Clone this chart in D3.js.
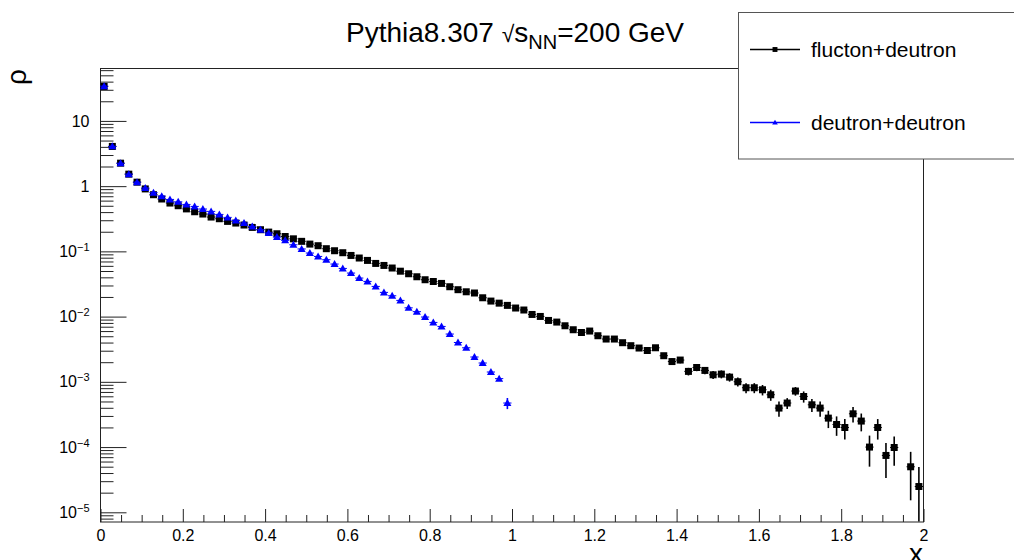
<!DOCTYPE html>
<html>
<head>
<meta charset="utf-8">
<script src="https://cdn.jsdelivr.net/npm/d3@7"></script>
<style>
  body { margin: 0; background: #fff; }
  svg { display: block; font-family: "Liberation Sans", Arial, sans-serif; }
</style>
</head>
<body>
<div id="root"></div>
<script>
// bins of width 0.02 on [0, 2]
const binWidth = 0.02

// flucton+deutron, one value per bin (null = empty bin)
const fdValues = [
  33.2, 3.99, 2.21, 1.50, 1.13, 0.891, 0.726, 0.624, 0.541, 0.492,
  0.440, 0.398, 0.367, 0.330, 0.311, 0.283, 0.267, 0.249, 0.229, 0.211,
  0.194, 0.183, 0.166, 0.153, 0.140, 0.127, 0.120, 0.108, 0.1005, 0.0937,
  0.0851, 0.0777, 0.0714, 0.0642, 0.0598, 0.0546, 0.0488, 0.0446, 0.0401, 0.0361,
  0.0339, 0.0317, 0.0282, 0.0254, 0.0236, 0.0226, 0.0191, 0.0170, 0.0158, 0.0146,
  0.0133, 0.0124, 0.0106, 0.00988, 0.00858, 0.00810, 0.00711, 0.00618, 0.00561, 0.00590,
  0.00500, 0.00445, 0.00445, 0.00391, 0.00352, 0.00324, 0.00297, 0.00327, 0.00247, 0.00201,
  0.00212, 0.00142, 0.00163, 0.00147, 0.00126, 0.00129, 0.00116, 0.000986, 0.000798, 0.000798,
  0.000743, 0.000623, 0.000389, 0.000465, 0.000710, 0.000586, 0.000437, 0.000389, 0.000273, 0.000218,
  0.000196, 0.000318, 0.000246, 0.0000982, 0.000196, 0.0000731, 0.0000968, null, 0.0000490, 0.0000244
]

// flucton+deutron errors (only the ones that show outside the marker)
const fdErrors = [
  0, 0, 0, 0, 0, 0, 0, 0, 0, 0,
  0, 0, 0, 0, 0, 0, 0, 0, 0, 0,
  0, 0, 0, 0, 0, 0, 0, 0, 0, 0,
  0, 0, 0, 0, 0, 0, 0, 0, 0, 0,
  0, 0, 0, 0, 0, 0, 0, 0, 0, 0,
  0, 0, 0, 0, 0, 0, 0, 0, 0, 0,
  0, 0, 0, 0, 0, 0, 0.00027, 0.00028, 0.00025, 0.00022,
  0.00023, 0.00019, 0.00020, 0.00019, 0.000175, 0.00018, 0.00017, 0.000155, 0.00014, 0.00014,
  0.000135, 0.00012, 0.000103, 0.000088, 0.000107, 0.000114, 0.000098, 0.000103, 0.000081, 0.000072,
  0.000068, 0.000085, 0.000075, 0.000049, 0.000068, 0.000040, 0.000046, 0, 0.000034, 0.000024
]

// deutron+deutron, bins 0 .. 49
const ddValues = [
  33.5, 4.0, 2.2, 1.5, 1.13, 0.92, 0.78, 0.69, 0.615, 0.565,
  0.515, 0.480, 0.438, 0.403, 0.362, 0.326, 0.293, 0.267, 0.237, 0.211,
  0.188, 0.163, 0.145, 0.124, 0.107, 0.0927, 0.0822, 0.0732, 0.0628, 0.0538,
  0.0457, 0.0383, 0.0340, 0.0285, 0.0231, 0.0205, 0.0174, 0.0134, 0.0117, 0.00968,
  0.00800, 0.00694, 0.00531, 0.00394, 0.00327, 0.00236, 0.00191, 0.00139, 0.00110, 0.000465
]

const ddErrors = [
  0, 0, 0, 0, 0, 0, 0, 0, 0, 0,
  0, 0, 0, 0, 0, 0, 0, 0, 0, 0,
  0, 0, 0, 0, 0, 0, 0, 0, 0, 0,
  0, 0, 0, 0, 0, 0, 0, 0, 0, 0,
  0, 0, 0, 0, 0.00016, 0.00012, 0.00011, 0.00009, 0.00008, 0.00009
]

const xTicks = [0, 0.2, 0.4, 0.6, 0.8, 1, 1.2, 1.4, 1.6, 1.8, 2]
const yTicks = [1e-5, 1e-4, 1e-3, 1e-2, 1e-1, 1, 10]
const seriesNames = ['flucton+deutron', 'deutron+deutron']
const seriesColors = ['#000000', '#0000ff']

const W = 1014, H = 560
const frame = { left: 100, right: 923, top: 68, bottom: 521.5 }

const svg = d3.select('#root')
  .append('svg')
  .attr('width', W)
  .attr('height', H)

const x = d3.scaleLinear().domain([0, 2]).range([frame.left, frame.right])
const y = d3.scaleLog().domain([7.1e-6, 63.6]).range([frame.bottom, frame.top])

// frame
svg.append('rect')
  .attr('x', frame.left + 0.5).attr('y', frame.top + 0.5)
  .attr('width', frame.right - frame.left).attr('height', frame.bottom - frame.top)
  .attr('fill', 'none').attr('stroke', '#222').attr('stroke-width', 1)

// x axis: majors with labels, minors every 0.05
const xMinor = d3.range(0, 2.0001, 0.05).filter(v => Math.abs(v * 5 - Math.round(v * 5)) > 1e-6)
svg.append('g')
  .attr('transform', `translate(0.5,${frame.bottom + 0.5})`)
  .call(d3.axisBottom(x).tickValues(xMinor).tickSize(-7).tickFormat(''))
  .call(g => g.select('.domain').remove())
svg.append('g')
  .attr('class', 'xaxis')
  .attr('transform', `translate(0.5,${frame.bottom + 0.5})`)
  .call(d3.axisBottom(x).tickValues(xTicks).tickSize(-13).tickPadding(8)
    .tickFormat(d => d3.format('~g')(d)))
  .call(g => g.select('.domain').remove())

// y axis: decades with labels, 2..9 minors
const yMinor = []
for (let e = -6; e <= 1; e++) {
  for (let m = 2; m <= 9; m++) {
    const v = m * Math.pow(10, e)
    if (v >= 7.1e-6 && v <= 63.6) yMinor.push(v)
  }
}
svg.append('g')
  .attr('transform', `translate(${frame.left + 0.5},0.5)`)
  .call(d3.axisLeft(y).tickValues(yMinor).tickSize(-13).tickFormat(''))
  .call(g => g.select('.domain').remove())
const yAxis = svg.append('g')
  .attr('class', 'yaxis')
  .attr('transform', `translate(${frame.left + 0.5},0.5)`)
  .call(d3.axisLeft(y).tickValues(yTicks).tickSize(-26).tickPadding(11).tickFormat(''))
  .call(g => g.select('.domain').remove())

svg.selectAll('.tick line').attr('stroke', '#222')
svg.selectAll('.xaxis text').attr('font-size', 16).attr('fill', '#000')
  .attr('font-family', '"Liberation Sans", Arial, sans-serif')

// y tick labels, 10^n with superscripts
yAxis.selectAll('.tick').each(function(d) {
  const e = Math.round(Math.log10(d))
  const t = d3.select(this).select('text')
    .attr('font-size', 16).attr('fill', '#000').attr('dy', '0.32em')
    .attr('font-family', '"Liberation Sans", Arial, sans-serif')
  if (e === 0) t.text('1')
  else if (e === 1) t.text('10')
  else {
    t.append('tspan').text('10')
    t.append('tspan').attr('font-size', 11).attr('dy', '-0.55em').text('\u2212' + (-e))
  }
})

// markers
function drawSeries(values, errors, color, shape) {
  const pts = values.map((v, i) => ({ x: binWidth * (i + 0.5), v: v, e: errors[i] || 0 }))
    .filter(p => p.v != null)
  const g = svg.append('g')
  // horizontal bars (bin width)
  g.selectAll('.hbar').data(pts).enter().append('line')
    .attr('x1', d => x(d.x - binWidth / 2)).attr('x2', d => x(d.x + binWidth / 2))
    .attr('y1', d => y(d.v)).attr('y2', d => y(d.v))
    .attr('stroke', color).attr('stroke-width', 1)
  // vertical error bars
  g.selectAll('.vbar').data(pts.filter(p => p.e > 0)).enter().append('line')
    .attr('x1', d => x(d.x)).attr('x2', d => x(d.x))
    .attr('y1', d => y(d.v + d.e))
    .attr('y2', d => d.v - d.e > 7.1e-6 ? y(d.v - d.e) : frame.bottom)
    .attr('stroke', color).attr('stroke-width', 1.6)
  g.selectAll('.mk').data(pts).enter().append('path')
    .attr('transform', d => `translate(${x(d.x)},${y(d.v)})`)
    .attr('d', shape)
    .attr('fill', color)
}

const squarePath = 'M-3.5,-3.5H3.5V3.5H-3.5Z'
const trianglePath = 'M0,-4L4,3H-4Z'
drawSeries(fdValues, fdErrors, seriesColors[0], squarePath)
drawSeries(ddValues, ddErrors, seriesColors[1], trianglePath)

// title
const title = svg.append('text')
  .attr('x', 515).attr('y', 42)
  .attr('text-anchor', 'middle')
  .attr('font-size', 28)
  .attr('fill', '#000')
title.append('tspan').text('Pythia8.307 ')
title.append('tspan').attr('font-size', 23).attr('font-weight', 300).text('\u221A')
title.append('tspan').text('s')
title.append('tspan').attr('font-size', 20).attr('dy', 7).text('NN')
title.append('tspan').attr('dy', -7).text('=200 GeV')

// axis titles
svg.append('text')
  .attr('transform', 'translate(26,77) rotate(-90)')
  .attr('text-anchor', 'middle')
  .attr('font-size', 28)
  .attr('fill', '#000')
  .text('\u03C1')
svg.append('text')
  .attr('x', frame.right).attr('y', 563)
  .attr('text-anchor', 'end')
  .attr('font-size', 28)
  .attr('fill', '#000')
  .text('x')

// legend
const legend = svg.append('g')
legend.append('rect')
  .attr('x', 738.5).attr('y', 12.5).attr('width', 300).attr('height', 146.5)
  .attr('fill', '#fff').attr('stroke', '#555').attr('stroke-width', 1)
const legendY = [49, 122]
seriesNames.forEach((name, i) => {
  const row = legend.append('g').attr('transform', `translate(0,${legendY[i]})`)
  row.append('line').attr('x1', 750).attr('x2', 800).attr('y1', 0.5).attr('y2', 0.5)
    .attr('stroke', seriesColors[i]).attr('stroke-width', 1.5)
  row.append('path').attr('transform', 'translate(775,0.5) scale(0.7)')
    .attr('d', i === 0 ? squarePath : trianglePath).attr('fill', seriesColors[i])
  row.append('text').attr('x', 811).attr('y', 7.5)
    .attr('font-size', 21).attr('fill', '#000').text(name)
})
</script>
</body>
</html>
